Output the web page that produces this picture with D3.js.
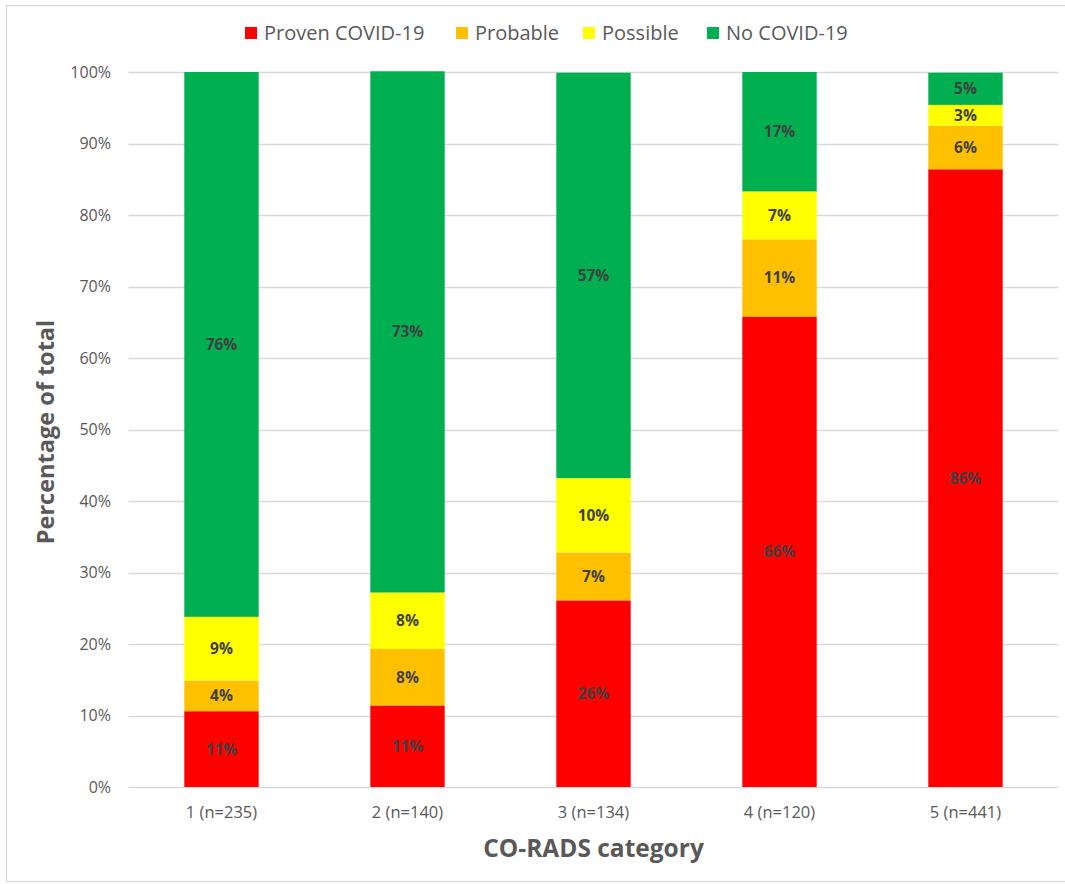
<!DOCTYPE html>
<html>
<head>
<meta charset="utf-8">
<script src="https://cdn.jsdelivr.net/npm/d3@7"></script>
<style>
  html, body { margin: 0; padding: 0; background: #fff; }
  svg { display: block; font-family: "Open Sans", "Lato", sans-serif; }
</style>
</head>
<body>
<svg id="chart" width="1065" height="884"></svg>
<script>
// CO-RADS categories and percentage of each outcome per category
const categories = ["1 (n=235)", "2 (n=140)", "3 (n=134)", "4 (n=120)", "5 (n=441)"];
const seriesNames = ["Proven COVID-19", "Probable", "Possible", "No COVID-19"];
const seriesColors = ["#FF0000", "#FFC000", "#FFFF00", "#00B050"];
const proven   = [10.6, 11.4, 26.1, 65.8, 86.4];
const probable = [4.3, 7.9, 6.7, 10.8, 6.1];
const possible = [8.9, 7.9, 10.4, 6.7, 2.9];
const noCovid  = [76.2, 72.9, 56.7, 16.7, 4.5];
const yTicks = [0, 10, 20, 30, 40, 50, 60, 70, 80, 90, 100];

const seriesValues = [proven, probable, possible, noCovid];
const rows = categories.map((c, i) => {
  const r = { category: c };
  seriesNames.forEach((s, k) => { r[s] = seriesValues[k][i]; });
  return r;
});

const svg = d3.select("#chart");
const W = 1065;
const plot = { left: 128.5, right: 1058.5, top: 72, bottom: 787 };

// outer frame
svg.append("rect")
  .attr("x", 6.5).attr("y", 5.5)
  .attr("width", W + 10).attr("height", 876)
  .attr("fill", "#fff").attr("stroke", "#d9d9d9").attr("stroke-width", 1.3);

const x = d3.scaleBand().domain(categories)
  .range([plot.left, plot.right]).paddingInner(0.6).paddingOuter(0.3);
const y = d3.scaleLinear().domain([0, 100]).range([plot.bottom, plot.top]);

// gridlines
svg.append("g").selectAll("line").data(yTicks).join("line")
  .attr("x1", plot.left).attr("x2", plot.right)
  .attr("y1", d => Math.round(y(d)) + 0.5).attr("y2", d => Math.round(y(d)) + 0.5)
  .attr("stroke", "#d9d9d9").attr("stroke-width", 1.3);

// y axis labels
const yAxis = d3.axisLeft(y).tickValues(yTicks).tickSize(0).tickPadding(0)
  .tickFormat(d => d + "%");
svg.append("g").attr("transform", `translate(111,0)`).call(yAxis)
  .call(g => g.select(".domain").remove())
  .call(g => g.selectAll("text").attr("font-family", "Open Sans, sans-serif")
    .attr("font-size", 16).attr("fill", "#595959"));

// x axis labels
const xAxis = d3.axisBottom(x).tickSize(0).tickPadding(0);
svg.append("g").attr("transform", `translate(0,${plot.bottom + 19})`).call(xAxis)
  .call(g => g.select(".domain").remove())
  .call(g => g.selectAll("text").attr("font-family", "Open Sans, sans-serif")
    .attr("font-size", 16.5).attr("fill", "#595959"));

// stacked bars
const stack = d3.stack().keys(seriesNames)(rows);
const color = d3.scaleOrdinal().domain(seriesNames).range(seriesColors);

const layers = svg.append("g").selectAll("g").data(stack).join("g")
  .attr("fill", d => color(d.key));
layers.selectAll("rect").data(d => d).join("rect")
  .attr("x", d => x(d.data.category))
  .attr("width", x.bandwidth())
  .attr("y", d => y(d[1]))
  .attr("height", d => y(d[0]) - y(d[1]));

// value labels
const labels = svg.append("g");
stack.forEach(layer => {
  layer.forEach(d => {
    labels.append("text")
      .attr("x", x(d.data.category) + x.bandwidth() / 2)
      .attr("y", (y(d[0]) + y(d[1])) / 2)
      .attr("dy", "0.35em")
      .attr("text-anchor", "middle")
      .attr("font-size", 15.5).attr("font-weight", "bold")
      .attr("fill", "#404040")
      .text(Math.round(d[1] - d[0]) + "%");
  });
});

// axis titles
svg.append("text")
  .attr("x", (plot.left + plot.right) / 2).attr("y", 857)
  .attr("text-anchor", "middle").attr("font-size", 24.5).attr("font-weight", "bold")
  .attr("fill", "#595959").text("CO-RADS category");
svg.append("text")
  .attr("transform", `translate(54,${432}) rotate(-90)`)
  .attr("text-anchor", "middle").attr("font-size", 23.5).attr("font-weight", "bold")
  .attr("fill", "#595959").text("Percentage of total");

// legend
const legendX = [245, 456, 583, 707];
const legend = svg.append("g").selectAll("g").data(seriesNames).join("g")
  .attr("transform", (d, i) => `translate(${legendX[i]},27)`);
legend.append("rect").attr("width", 12).attr("height", 12).attr("fill", d => color(d));
legend.append("text").attr("x", 19).attr("y", 6).attr("dy", "0.35em")
  .attr("font-size", 20).attr("fill", "#595959").text(d => d);
</script>
</body>
</html>
